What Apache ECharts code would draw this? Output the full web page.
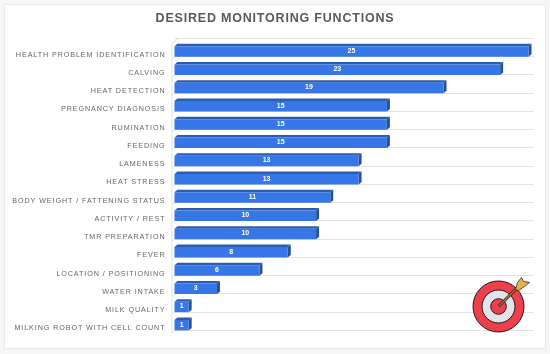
<!DOCTYPE html>
<html><head><meta charset="utf-8">
<style>html,body{margin:0;padding:0;background:#f6f6f6}#c{width:550px;height:354px}</style>
<script src="https://cdn.jsdelivr.net/npm/echarts@6/dist/echarts.min.js"></script>
</head><body><div id="c"></div>
<script>
const categories = ["HEALTH PROBLEM IDENTIFICATION","CALVING","HEAT DETECTION","PREGNANCY DIAGNOSIS","RUMINATION","FEEDING","LAMENESS","HEAT STRESS","BODY WEIGHT / FATTENING STATUS","ACTIVITY / REST","TMR PREPARATION","FEVER","LOCATION / POSITIONING","WATER INTAKE","MILK QUALITY","MILKING ROBOT WITH CELL COUNT"];
const values = [25,23,19,15,15,15,13,13,11,10,10,8,6,3,1,1];
const titleText = "DESIRED MONITORING FUNCTIONS";

// letter-spaced text (the source chart uses tracked capitals)
const nativeFill = CanvasRenderingContext2D.prototype.fillText;
CanvasRenderingContext2D.prototype.fillText = function(t,x,y,m){
  const f = this.font || '';
  if ('letterSpacing' in this) {
    this.letterSpacing = /(bold|700).*12\.5/.test(f) ? '0.8px' : (/7\.2px/.test(f) ? '0.9px' : '0px');
  }
  return m===undefined ? nativeFill.call(this,t,x,y) : nativeFill.call(this,t,x,y,m);
};

const chart = echarts.init(document.getElementById('c'), null, {renderer:'canvas'});
const DX = 3, DY = 2.5, FRONT = 10.4, STUB = 2.5;

function renderBar(params, api){
  const v = api.value(0), i = api.value(1);
  const end = api.coord([v,i]), start = api.coord([0,i]);
  const band = api.size([0,1])[1];
  const bot = start[1] + band/2 + 0.4, top = bot - FRONT;
  const x0 = start[0], x1 = end[0];
  return {type:'group', children:[
    {type:'line', shape:{x1:x0-STUB,y1:bot+STUB,x2:x0,y2:bot}, style:{stroke:'#e3e3e3',lineWidth:1}, silent:true},
    {type:'polygon', shape:{points:[[x0,top],[x0+DX,top-DY],[x1+DX,top-DY],[x1,top]]}, style:{fill:'#2a5db0'}},
    {type:'polygon', shape:{points:[[x1,top],[x1+DX,top-DY],[x1+DX,bot-DY],[x1,bot]]}, style:{fill:'#27508f'}},
    {type:'rect', shape:{x:x0,y:top,width:x1-x0,height:bot-top}, style:{fill:'#3676e6'}},
    {type:'text', style:{x:(x0+x1)/2,y:(top+bot)/2-0.5,text:String(v),fill:'#ffffff',font:'bold 7px "Liberation Sans"',align:'center',verticalAlign:'middle'}}
  ]};
}

const cx = 498.5, cy = 306.5;
const Z = 20;
chart.setOption({
  animation:false,
  backgroundColor:'#f6f6f6',
  title:{text:titleText,left:270,top:7,textAlign:'center',textStyle:{fontFamily:'Liberation Sans',fontWeight:'bold',fontSize:12.5,color:'#595959'}},
  grid:{left:174.5,right:16,top:38,height:292,containLabel:false},
  xAxis:{type:'value',min:0,max:25.39,show:false},
  yAxis:{type:'category',inverse:true,data:categories,
    axisLine:{show:false},axisTick:{show:false},
    splitLine:{show:true,lineStyle:{color:'#e3e3e3',width:1}},
    axisLabel:{fontFamily:'Liberation Sans',fontSize:7.2,color:'#666666',margin:9,verticalAlign:'top',lineHeight:15}},
  series:[{type:'custom',renderItem:renderBar,clip:false,z:5,
    encode:{x:0,y:1},
    data:values.map((v,i)=>[v,i])}],
  graphic:[
    {type:'rect',z:-10,shape:{x:4.5,y:4.5,width:541,height:344},style:{fill:'#ffffff',stroke:'#e9e9e9',lineWidth:1}},
    {type:'polyline',z:-1,shape:{points:[[178,38],[172,44],[172,333]]},style:{fill:null,stroke:'#e3e3e3',lineWidth:1}},
    {type:'circle',z:Z,shape:{cx,cy,r:25.5},style:{fill:'#ee3f4c',stroke:'#2b1414',lineWidth:1}},
    {type:'circle',z:Z+1,shape:{cx,cy,r:16.5},style:{fill:'#e2e4ea',stroke:'#2b1414',lineWidth:1}},
    {type:'circle',z:Z+2,shape:{cx,cy,r:7.8},style:{fill:'#ee3f4c',stroke:'#2b1414',lineWidth:1}},
    {type:'line',z:Z+3,shape:{x1:cx,y1:cy,x2:cx+22,y2:cy-22},style:{stroke:'#2b1414',lineWidth:2.8}},
    {type:'line',z:Z+4,shape:{x1:cx,y1:cy,x2:cx+22,y2:cy-22},style:{stroke:'#b5803f',lineWidth:1.2}},
    {type:'polygon',z:Z+5,shape:{points:[[cx+17,cy-17],[cx+19,cy-24],[cx+23,cy-29],[cx+25,cy-25],[cx+31,cy-24],[cx+26,cy-20],[cx+20,cy-16]]},style:{fill:'#e2b553',stroke:'#3a2a14',lineWidth:0.8}}
  ]
});
</script></body></html>
